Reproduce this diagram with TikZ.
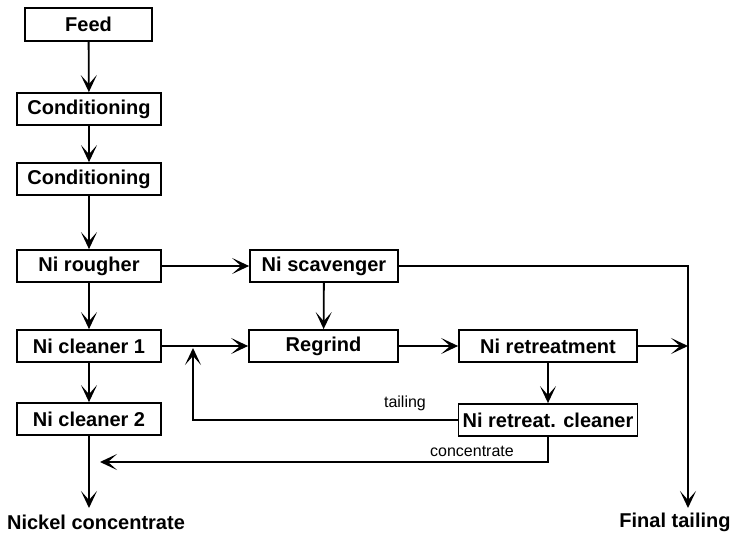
\documentclass[tikz,border=0pt]{standalone}
\usepackage{fontspec}
\setmainfont{Liberation Sans}
\usetikzlibrary{arrows.meta}
\begin{document}
\begin{tikzpicture}[x=1pt, y=-1pt,
    box/.style={draw, line width=1.8pt, minimum height=32pt, minimum width=144pt,
        inner sep=0pt, font=\fontsize{20}{22}\selectfont\bfseries},
    flow/.style={line width=1.8pt, -{Stealth[length=17pt,width=16pt,inset=9pt]}},
    small/.style={font=\fontsize{16}{18}\selectfont},
    outlabel/.style={font=\fontsize{20}{22}\selectfont\bfseries}]
    \useasboundingbox (0,0) rectangle (732,537);

    % Draw boxes
    \node[box, minimum width=127pt, minimum height=33pt] (feed) at (88.5,24.5) {Feed};
    \node[box] (cond1) at (89,109) {Conditioning};
    \node[box] (cond2) at (89,179) {Conditioning};
    \node[box] (rough) at (89,266) {Ni rougher};
    \node[box] (clean1) at (89,346) {Ni cleaner 1};
    \node[box] (clean2) at (89,419) {Ni cleaner 2};
    \node[box, minimum width=148pt] (scav) at (324,266) {Ni scavenger};
    \node[box, minimum width=149pt] (regrind) at (323.5,346) {Regrind};
    \node[box, minimum width=178pt] (retreat) at (548,346) {Ni retreatment};
    \node[box, minimum width=179pt] (rclean) at (548,420) {Ni retreat. cleaner};

    % Points for the open ends
    \coordinate (nickel) at (89,508);
    \coordinate (final) at (688,508);
    \coordinate (tailcorner) at (688,266);
    \coordinate (tailjoin) at (688,346);
    \coordinate (backfoot) at (193,420);
    \coordinate (backtip) at (193,348);
    \coordinate (concfoot) at (548,462);
    \coordinate (conctip) at (100,462);

    % Main line
    \draw[flow] (feed) -- (cond1);
    \draw[flow] (cond1) -- (cond2);
    \draw[flow] (cond2) -- (rough);
    \draw[flow] (rough) -- (clean1);
    \draw[flow] (clean1) -- (clean2);
    \draw[flow] (clean2) -- (nickel);

    % Scavenger and regrind circuit
    \draw[flow] (rough) -- (scav);
    \draw[flow] (scav) -- (regrind);
    \draw[flow] (clean1) -- (regrind);
    \draw[flow] (regrind) -- (retreat);
    \draw[flow] (retreat) -- (rclean);

    % Tailing line
    \draw[flow] (scav.east) -- (tailcorner) -- (final);
    \draw[flow] (retreat) -- (tailjoin);

    % Returns
    \draw[flow] (rclean.west) -- (backfoot) -- (backtip);
    \draw[flow] (rclean.south) -- (concfoot) -- (conctip);

    % Labels
    \node[small] (tl) at (405,403) {tailing};
    \node[small] (cl) at (472,451) {concentrate};
    \node[outlabel] (nc) at (96,522) {Nickel concentrate};
    \node[outlabel] (ft) at (675,522) {Final tailing};
\end{tikzpicture}
\end{document}
